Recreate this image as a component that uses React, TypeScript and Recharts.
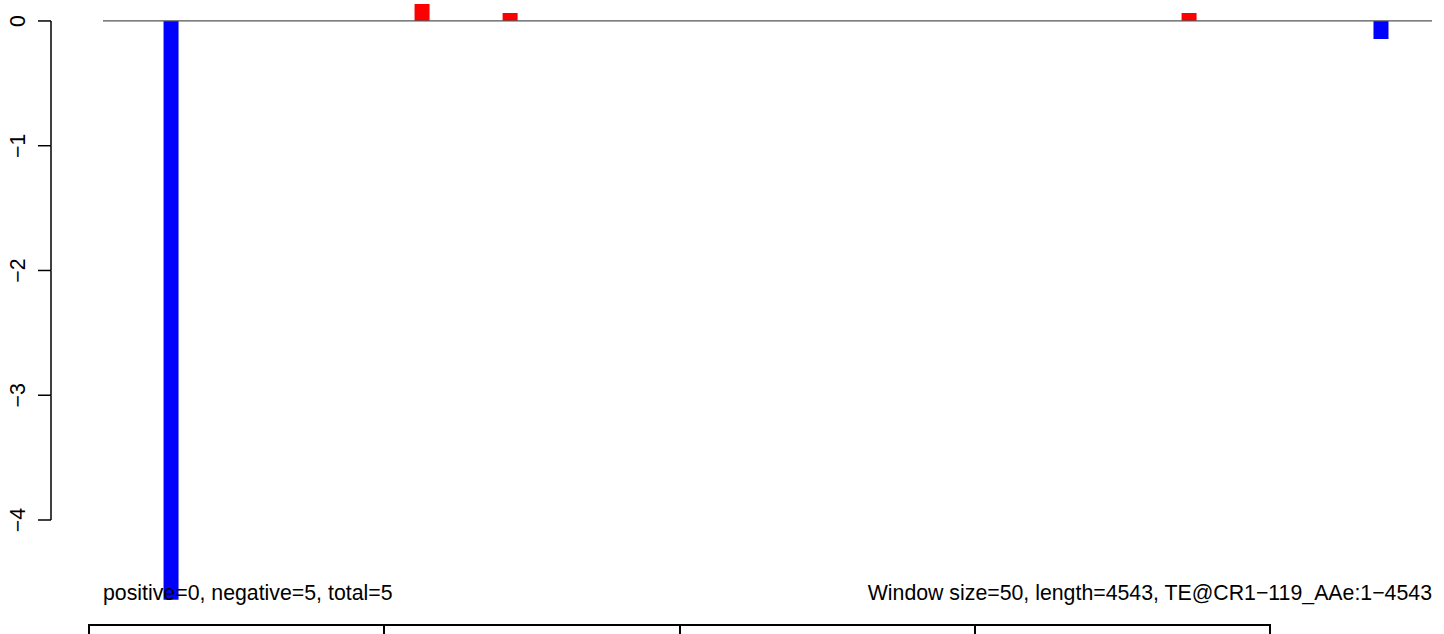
import React from "react";
import { BarChart, Bar, Cell, XAxis, YAxis, ReferenceLine } from "recharts";

const WIDTH = 1444;
const HEIGHT = 634;
const TE_LENGTH = 4543;

// window centres along the TE and their scores
const windowCenters = [231, 1089, 1390, 3711, 4367];
const windowScores = [-4.64, 0.136, 0.064, 0.064, -0.144];
const yTicks = [0, -1, -2, -3, -4];
const statsLabel = "positive=0, negative=5, total=5";
const infoLabel = "Window size=50, length=4543, TE@CR1\u2212119_AAe:1\u22124543";
const boxCells = ["", "", "", ""];

const Y_DOMAIN: [number, number] = [-4.8, 0.16];
const MARGIN = { top: 1, right: 12, bottom: 14.2, left: 0 };
const UNIT_PX =
  (HEIGHT - MARGIN.top - MARGIN.bottom) / (Y_DOMAIN[1] - Y_DOMAIN[0]);
const AXIS_X = 51;
const FONT_SIZE = 21.3;
const FONT = "'Liberation Sans', Arial, Helvetica, sans-serif";

const data = windowCenters.map((pos, i) => ({ pos, score: windowScores[i] }));

const fmt = (v: number) => (v < 0 ? "\u2212" + Math.abs(v) : String(v));

const YTick = (props: any) => {
  const { y, payload } = props;
  const v = payload.value as number;
  return (
    <g>
      <line x1={AXIS_X - 13} x2={AXIS_X} y1={y} y2={y} stroke="#000" strokeWidth={1.5} />
      {v !== 0 && (
        <line x1={AXIS_X} x2={AXIS_X} y1={y} y2={y - UNIT_PX} stroke="#000" strokeWidth={1.5} />
      )}
      <text
        x={25}
        y={y}
        transform={`rotate(-90 25 ${y})`}
        textAnchor="middle"
        fontSize={FONT_SIZE}
        fontFamily={FONT}
        fill="#000"
      >
        {fmt(v)}
      </text>
    </g>
  );
};

export default function App() {
  return (
    <div
      style={{
        position: "absolute",
        left: 0,
        top: 0,
        width: WIDTH,
        height: HEIGHT,
        overflow: "hidden",
        background: "#fff",
        fontFamily: FONT,
      }}
    >
      <BarChart width={WIDTH} height={HEIGHT} data={data} margin={MARGIN}>
        <XAxis
          dataKey="pos"
          type="number"
          domain={[0, TE_LENGTH]}
          allowDataOverflow
          hide
        />
        <YAxis
          type="number"
          domain={Y_DOMAIN}
          allowDataOverflow
          ticks={yTicks}
          interval={0}
          width={103}
          axisLine={false}
          tickLine={false}
          tick={<YTick />}
        />
        <ReferenceLine
          segment={[
            { x: 0, y: 0 },
            { x: TE_LENGTH, y: 0 },
          ]}
          stroke="#555"
          strokeWidth={1.3}
        />
        <Bar dataKey="score" barSize={15} isAnimationActive={false}>
          {data.map((d, i) => (
            <Cell key={i} fill={d.score < 0 ? "#0000ff" : "#ff0000"} />
          ))}
        </Bar>
      </BarChart>
      <div
        style={{
          position: "absolute",
          left: 103,
          top: 582.8,
          fontSize: FONT_SIZE,
          lineHeight: "21px",
          whiteSpace: "nowrap",
          color: "#000",
        }}
      >
        {statsLabel}
      </div>
      <div
        style={{
          position: "absolute",
          right: 12,
          top: 582.8,
          fontSize: FONT_SIZE,
          lineHeight: "21px",
          whiteSpace: "nowrap",
          textAlign: "right",
          color: "#000",
        }}
      >
        {infoLabel}
      </div>
      <div
        style={{
          position: "absolute",
          left: 88,
          top: 624,
          width: 1183,
          height: 40,
          display: "flex",
        }}
      >
        {boxCells.map((c, i) => (
          <div
            key={i}
            style={{
              flex: 1,
              boxSizing: "border-box",
              borderTop: "2px solid #000",
              borderLeft: "2px solid #000",
              borderRight: i === boxCells.length - 1 ? "2px solid #000" : "none",
            }}
          >
            {c}
          </div>
        ))}
      </div>
    </div>
  );
}
